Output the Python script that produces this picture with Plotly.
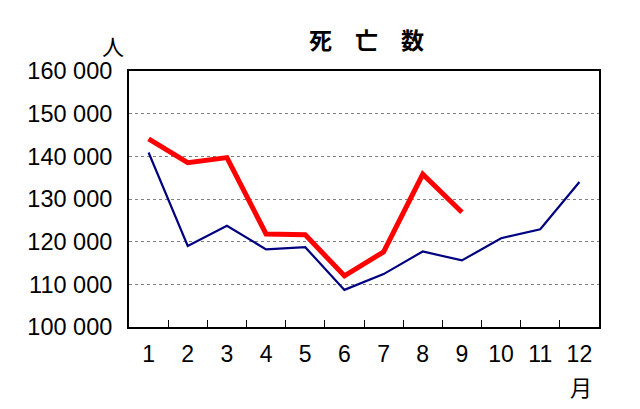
import plotly.graph_objects as go

months = list(range(1, 13))
month_labels = [str(m) for m in months]
# current year (red, Jan-Sep) and previous year (navy)
deaths_this_year = [144100, 138500, 139700, 121800, 121600, 112000, 117600, 135800, 126900]
deaths_last_year = [140900, 119000, 123700, 118200, 118700, 108700, 112400, 117700, 115600, 120800, 122900, 134000]
y_ticks = [100000, 110000, 120000, 130000, 140000, 150000, 160000]
y_tick_text = [f"{v:,}".replace(",", " ") for v in y_ticks]

fig = go.Figure()
fig.add_trace(go.Scatter(x=months, y=deaths_last_year, mode="lines",
                         line=dict(color="#000080", width=2.2)))
fig.add_trace(go.Scatter(x=months[:len(deaths_this_year)], y=deaths_this_year, mode="lines",
                         line=dict(color="#ff0000", width=5)))
# invisible trace just to carry the tick-mark axis
fig.add_trace(go.Scatter(x=[0.5, 12.5], y=[None, None], xaxis="x2", showlegend=False))

# page body has an 8px margin, so the figure is shrunk by that much
W, H = 632, 401
L, T, R, B = 121, 63, 41, 82
pw, ph = W - L - R, H - T - B


def px_to_paper(px, py):
    # px, py in screenshot pixels
    return (px - 8 - L) / pw, (H - B - (py - 8)) / ph


cjk = "Noto Sans CJK JP"
fig.update_layout(
    width=W, height=H,
    margin=dict(l=L, r=R, t=T, b=B),
    paper_bgcolor="white", plot_bgcolor="white",
    showlegend=False,
    xaxis=dict(range=[0.5, 12.5], tickvals=months, ticktext=month_labels,
               ticks="", showgrid=False, zeroline=False,
               showline=True, linecolor="black", linewidth=2, mirror=True,
               tickfont=dict(family="Liberation Sans", size=23, color="black"),
               ticklabelstandoff=5),
    xaxis2=dict(range=[0.5, 12.5], overlaying="x", side="bottom",
                tickvals=[m + 0.5 for m in months[:-1]], ticks="inside", ticklen=7,
                tickwidth=1, tickcolor="black", showticklabels=False,
                showgrid=False, zeroline=False, showline=False),
    yaxis=dict(range=[100000, 160000], tickvals=y_ticks, ticktext=y_tick_text,
               ticks="", showgrid=True, gridcolor="#808080", gridwidth=1, griddash="dot",
               zeroline=False, showline=True, linecolor="black", linewidth=2, mirror=True,
               tickfont=dict(family="Liberation Sans", size=23.5, color="black"),
               ticklabelstandoff=10),
)

for text, (px, py), size, weight in [
    ("死\u3000亡\u3000数", (366, 39), 23, "bold"),
    ("人", (113, 45), 22, "normal"),
    ("月", (581, 386), 22, "normal"),
]:
    ax, ay = px_to_paper(px, py)
    fig.add_annotation(text=text, x=ax, y=ay, xref="paper", yref="paper",
                       xanchor="center", yanchor="middle", showarrow=False,
                       font=dict(family=cjk, size=size, color="black", weight=weight))

fig.write_html("out.html")
